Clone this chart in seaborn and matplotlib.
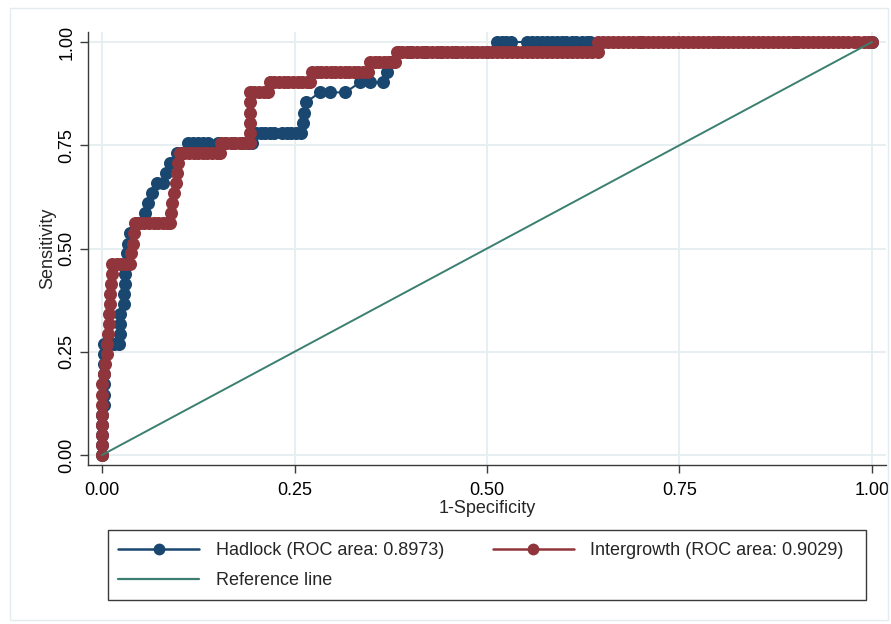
import numpy as np
import pandas as pd
import matplotlib
matplotlib.use("Agg")
import matplotlib.pyplot as plt
from matplotlib.patches import Rectangle
from matplotlib.lines import Line2D
import seaborn as sns

# ---------------- data ----------------
hadlock_fpr = [0.000, 0.000, 0.000, 0.000, 0.000, 0.002, 0.003, 0.003, 0.003, 0.003, 0.003, 0.003,
               0.009, 0.015, 0.022, 0.023, 0.023, 0.023, 0.028, 0.029, 0.030, 0.030, 0.031, 0.033,
               0.034, 0.036, 0.046, 0.056, 0.060, 0.065, 0.071, 0.079, 0.083, 0.088, 0.097, 0.104,
               0.112, 0.118, 0.125, 0.131, 0.138, 0.150, 0.160, 0.170, 0.180, 0.190, 0.195,
               0.200, 0.206, 0.212, 0.218, 0.224, 0.234, 0.240, 0.246, 0.252, 0.258,
               0.261, 0.262, 0.265, 0.283, 0.296, 0.316, 0.335, 0.348, 0.365, 0.370, 0.375,
               0.384, 0.400, 0.420, 0.440, 0.460, 0.480, 0.500, 0.513,
               0.519, 0.525, 0.531, 0.552, 0.558, 0.565, 0.571, 0.578, 0.584,
               0.591, 0.597, 0.603, 0.610, 0.616, 0.623, 0.630, 0.634, 0.700, 0.800, 0.900, 1.000]
hadlock_tpr = [0.000, 0.024, 0.049, 0.073, 0.098, 0.122, 0.146, 0.171, 0.195, 0.220, 0.244, 0.268,
               0.268, 0.268, 0.268, 0.293, 0.317, 0.341, 0.366, 0.390, 0.415, 0.439, 0.463, 0.488,
               0.512, 0.537, 0.561, 0.585, 0.610, 0.634, 0.659, 0.659, 0.683, 0.707, 0.732, 0.732,
               0.756, 0.756, 0.756, 0.756, 0.756, 0.756, 0.756, 0.756, 0.756, 0.756, 0.756,
               0.780, 0.780, 0.780, 0.780, 0.780, 0.780, 0.780, 0.780, 0.780, 0.780,
               0.805, 0.829, 0.854, 0.878, 0.878, 0.878, 0.902, 0.902, 0.902, 0.927, 0.951,
               0.976, 0.976, 0.976, 0.976, 0.976, 0.976, 0.976, 1.000,
               1.000, 1.000, 1.000, 1.000, 1.000, 1.000, 1.000, 1.000, 1.000,
               1.000, 1.000, 1.000, 1.000, 1.000, 1.000, 1.000, 1.000, 1.000, 1.000, 1.000, 1.000]

inter_fpr = [0.000, 0.000, 0.000, 0.000, 0.000, 0.000, 0.000, 0.000,
             0.003, 0.004, 0.006, 0.007, 0.008, 0.009, 0.009, 0.010, 0.011, 0.012, 0.013, 0.013,
             0.019, 0.025, 0.031, 0.036,
             0.038, 0.040, 0.042, 0.043,
             0.049, 0.055, 0.061, 0.067, 0.073, 0.079, 0.085, 0.088,
             0.089, 0.091, 0.094, 0.096, 0.097, 0.099, 0.101,
             0.107, 0.113, 0.119, 0.125, 0.131, 0.137, 0.143, 0.149, 0.153,
             0.155, 0.161, 0.167, 0.173, 0.179, 0.185, 0.192,
             0.192, 0.192, 0.192, 0.192, 0.192,
             0.198, 0.204, 0.210, 0.216,
             0.218, 0.224, 0.230, 0.236, 0.242, 0.248, 0.254, 0.260, 0.266, 0.270,
             0.273, 0.279, 0.285, 0.291, 0.297, 0.303, 0.309, 0.315, 0.321, 0.327, 0.333, 0.339, 0.345,
             0.348, 0.354, 0.360, 0.366, 0.372, 0.378, 0.380,
             0.383, 0.390, 0.396, 0.403, 0.409, 0.416, 0.422, 0.429, 0.435, 0.442, 0.448, 0.455,
             0.461, 0.468, 0.474, 0.481, 0.487, 0.494, 0.500, 0.507, 0.513, 0.520, 0.526, 0.533,
             0.539, 0.546, 0.552, 0.559, 0.565, 0.572, 0.578, 0.585, 0.591, 0.598, 0.604, 0.611,
             0.617, 0.624, 0.630, 0.637, 0.644,
             0.644, 0.651, 0.657, 0.664, 0.670, 0.677, 0.683, 0.690, 0.696, 0.703, 0.709, 0.716,
             0.722, 0.729, 0.735, 0.742, 0.748, 0.755, 0.761, 0.768, 0.774, 0.781, 0.787, 0.794,
             0.800, 0.807, 0.813, 0.820, 0.826, 0.833, 0.839, 0.846, 0.852, 0.859, 0.865, 0.872,
             0.878, 0.885, 0.891, 0.898, 0.904, 0.911, 0.917, 0.924, 0.930, 0.937, 0.943, 0.950,
             0.956, 0.963, 0.969, 0.976, 0.982, 0.989, 0.995, 1.000]
inter_tpr = ([0.000, 0.024, 0.049, 0.073, 0.098, 0.122, 0.146, 0.171,
              0.195, 0.220, 0.244, 0.268, 0.293, 0.317, 0.341, 0.366, 0.390, 0.415, 0.439, 0.463,
              0.463, 0.463, 0.463, 0.463,
              0.488, 0.512, 0.537, 0.561,
              0.561, 0.561, 0.561, 0.561, 0.561, 0.561, 0.561, 0.561,
              0.585, 0.610, 0.634, 0.659, 0.683, 0.707, 0.732,
              0.732, 0.732, 0.732, 0.732, 0.732, 0.732, 0.732, 0.732, 0.732,
              0.756, 0.756, 0.756, 0.756, 0.756, 0.756, 0.756,
              0.780, 0.805, 0.829, 0.854, 0.878,
              0.878, 0.878, 0.878, 0.878,
              0.902, 0.902, 0.902, 0.902, 0.902, 0.902, 0.902, 0.902, 0.902, 0.902,
              0.927, 0.927, 0.927, 0.927, 0.927, 0.927, 0.927, 0.927, 0.927, 0.927, 0.927, 0.927, 0.927,
              0.951, 0.951, 0.951, 0.951, 0.951, 0.951, 0.951]
             + [0.976] * 41 + [1.000] * 56)

reference_x = [0.0, 1.0]
reference_y = [0.0, 1.0]

labels = ["Hadlock (ROC area: 0.8973)", "Intergrowth (ROC area: 0.9029)", "Reference line"]
xticks = [0.0, 0.25, 0.5, 0.75, 1.0]
yticks = [0.0, 0.25, 0.5, 0.75, 1.0]
tick_labels = ["0.00", "0.25", "0.50", "0.75", "1.00"]

# ---------------- styling ----------------
sns.set_theme(style="white")
plt.rcParams["font.family"] = ["Liberation Sans", "DejaVu Sans"]
FS = 13
BLUE = "#1a476f"
RED = "#90353b"
GREEN = "#3a7f6f"
GRID = "#e6eef1"
AXC = "#3a3a3a"

W, H = 891, 624
fig = plt.figure(figsize=(W / 100, H / 100), dpi=100)
fig.patch.set_facecolor("white")

ax = fig.add_axes([88 / W, 1 - 465 / H, (886 - 88) / W, (465 - 32) / H])

df_h = pd.DataFrame({"fpr": hadlock_fpr, "tpr": hadlock_tpr})
df_i = pd.DataFrame({"fpr": inter_fpr, "tpr": inter_tpr})
df_r = pd.DataFrame({"fpr": reference_x, "tpr": reference_y})

ms = 9.4
sns.lineplot(data=df_h, x="fpr", y="tpr", ax=ax, sort=False, estimator=None,
             color=BLUE, lw=1.5, marker="o", markersize=ms, markeredgewidth=0, zorder=3)
sns.lineplot(data=df_i, x="fpr", y="tpr", ax=ax, sort=False, estimator=None,
             color=RED, lw=1.5, marker="o", markersize=ms, markeredgewidth=0, zorder=4)
sns.lineplot(data=df_r, x="fpr", y="tpr", ax=ax, sort=False, estimator=None,
             color=GREEN, lw=1.4, zorder=5)

ax.set_xlim(-0.0182, 1.0182)
ax.set_ylim(-0.0242, 1.0242)
ax.set_xticks(xticks)
ax.set_yticks(yticks)
ax.set_xticklabels(tick_labels, fontsize=FS)
ax.set_yticklabels(tick_labels, fontsize=FS, rotation=90, va="center")
ax.grid(True, color=GRID, lw=1.3)
ax.set_axisbelow(True)
for s in ["top", "right"]:
    ax.spines[s].set_visible(False)
for s in ["left", "bottom"]:
    ax.spines[s].set_color(AXC)
    ax.spines[s].set_linewidth(1.0)
ax.tick_params(axis="both", direction="out", length=6, width=1.0, color=AXC,
               labelcolor="black", bottom=True, left=True)
ax.tick_params(axis="x", pad=6)
ax.tick_params(axis="y", pad=3)
ax.set_xlabel("1-Specificity", fontsize=FS, labelpad=1)
ax.set_ylabel("Sensitivity", fontsize=FS, labelpad=2)

# legend
hh = Line2D([], [], color=BLUE, lw=1.8, marker="o", markersize=8.5, markeredgewidth=0)
hi = Line2D([], [], color=RED, lw=1.8, marker="o", markersize=8.5, markeredgewidth=0)
hr = Line2D([], [], color=GREEN, lw=1.6)
fig.legend([hh, hr, hi], [labels[0], labels[2], labels[1]], ncol=2, frameon=False,
           loc="upper left", bbox_to_anchor=(118 / W, 1 - 542 / H), fontsize=FS,
           handlelength=4.5, handletextpad=0.9, columnspacing=2.7, labelspacing=0.72,
           borderaxespad=0, borderpad=0)
fig.patches.append(Rectangle((108 / W, 1 - 600 / H), (866 - 108) / W, 70 / H,
                             transform=fig.transFigure, fill=False, ec=AXC, lw=1.0))
# outer light border
fig.patches.append(Rectangle((10 / W, 1 - 620 / H), (888 - 10) / W, (620 - 8) / H,
                             transform=fig.transFigure, fill=False, ec="#e4ecef", lw=1.0))

fig.savefig("out.png", dpi=100)
